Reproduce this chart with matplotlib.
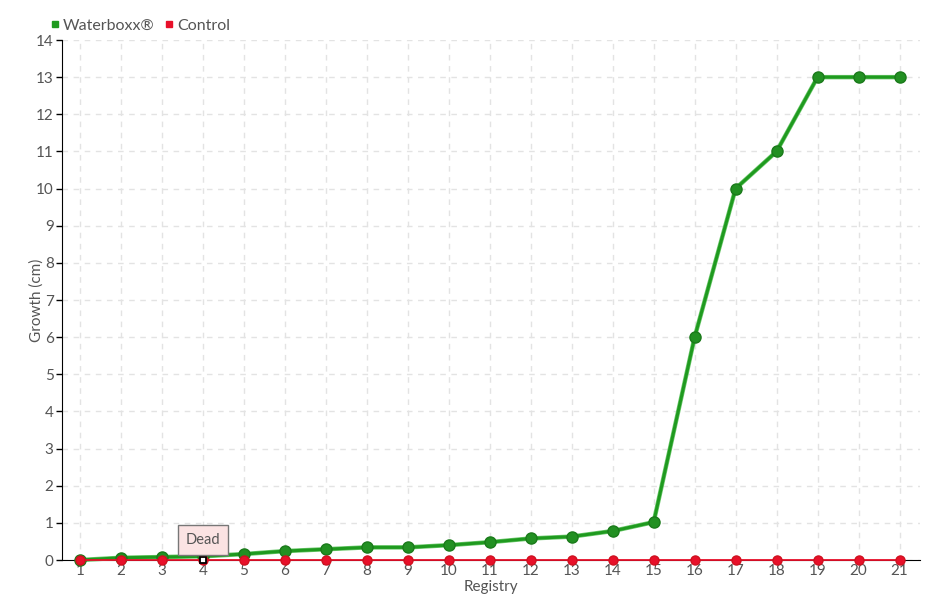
import numpy as np
import matplotlib
matplotlib.use("Agg")
import matplotlib.pyplot as plt
from matplotlib.lines import Line2D

# ─────────────────────────────────────────────
# DATA
# ─────────────────────────────────────────────
registry = list(range(1, 22))
waterboxx = [0, 0.06, 0.08, 0.1, 0.16, 0.24, 0.29, 0.34, 0.34, 0.4, 0.48,
             0.58, 0.63, 0.78, 1.02, 6, 10, 11, 13, 13, 13]
control = [0] * 21
dead_index = 3          # registry 4
dead_label = "Dead"
y_ticks = list(range(0, 15))

plt.rcParams["font.family"] = ["Lato", "DejaVu Sans"]
TEXT = "#555555"
GREEN = "#1f9a1f"
RED = "#e8102a"

fig = plt.figure(figsize=(9.4, 6.0), dpi=100)
ax = fig.add_axes([62 / 940, 40 / 600, (920 - 62) / 940, (560 - 40) / 600])

ax.set_xlim(0.56, 21.5)
ax.set_ylim(0, 14)

ax.grid(True, color="#e3e3e3", linestyle=(0, (4, 4)), linewidth=1)
ax.set_axisbelow(True)

# waterboxx series (lighter halo + line)
ax.plot(registry, waterboxx, color="#6cc86c", linewidth=3.2, solid_capstyle="round",
        zorder=3, clip_on=False)
ax.plot(registry, waterboxx, color=GREEN, linewidth=2.2, marker="o", markersize=8,
        markerfacecolor="#229022", markeredgecolor="#1a7a1a", zorder=4, clip_on=False)

# control series
ax.plot(registry, control, color=RED, linewidth=1.3, marker="o", markersize=6.5,
        markerfacecolor=RED, markeredgecolor="#d0101f", zorder=5, clip_on=False)
ax.plot(registry[dead_index], control[dead_index], marker="s", markersize=5,
        markerfacecolor="white", markeredgecolor="black", markeredgewidth=1.3,
        zorder=6, clip_on=False)

# tooltip
ax.annotate(dead_label, xy=(registry[dead_index], control[dead_index]),
            xytext=(0, 14.5), textcoords="offset points", ha="center", va="center",
            fontsize=10.5, color=TEXT,
            bbox=dict(boxstyle="square,pad=0.55", facecolor="#fbe3e3", edgecolor="#777777", linewidth=1),
            zorder=7)

ax.set_xticks(registry)
ax.set_yticks(y_ticks)
ax.tick_params(axis="x", length=0, labelsize=11, labelcolor=TEXT, pad=3)
ax.tick_params(axis="y", length=4, width=1, labelsize=11, labelcolor=TEXT, pad=2)

for s in ["top", "right"]:
    ax.spines[s].set_visible(False)
ax.spines["left"].set_color("black")
ax.spines["bottom"].set_color("black")

ax.set_xlabel("Registry", fontsize=11, color=TEXT, labelpad=1)
ax.set_ylabel("Growth (cm)", fontsize=11, color=TEXT)
ax.yaxis.set_label_coords(-(62 - 44) / 858, 0.5)

handles = [Line2D([], [], linestyle="none", marker="s", markersize=5, color=GREEN),
           Line2D([], [], linestyle="none", marker="s", markersize=5, color=RED)]
fig.legend(handles, ["Waterboxx®", "Control"], loc="upper left", bbox_to_anchor=(44 / 940, 1 - 12 / 600),
           ncol=2, frameon=False, fontsize=11.5, handlelength=0.6, handletextpad=0.2,
           columnspacing=0.6, labelcolor=TEXT, borderaxespad=0)

fig.savefig("out.png", dpi=100)
